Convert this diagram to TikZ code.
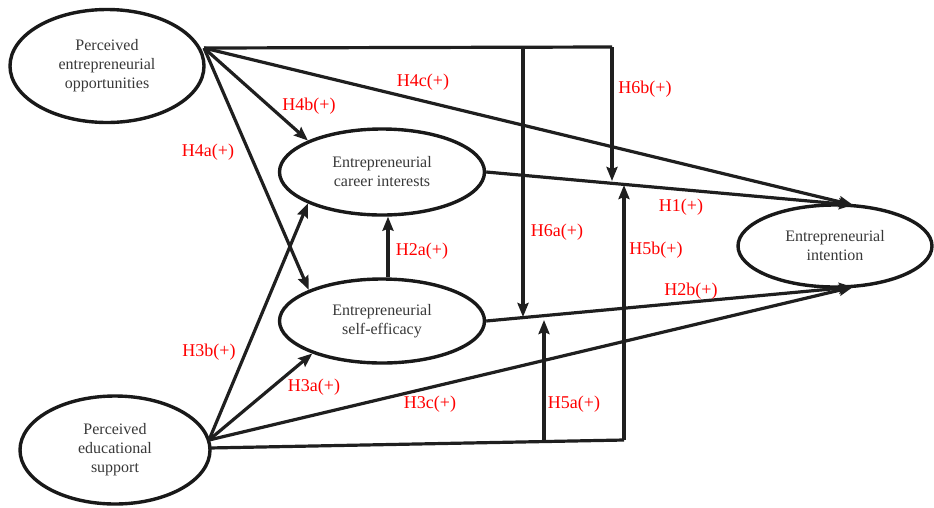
\documentclass[tikz,border=0pt]{standalone}
\usepackage{fontspec}
\setmainfont{Liberation Serif}
\usetikzlibrary{arrows.meta,shapes.geometric}
\tikzset{
  construct/.style={ellipse,draw=black!90,line width=3.4pt,inner sep=0pt,
    align=center,text=black!78,font=\fontsize{16}{19}\selectfont},
  conn/.style={line width=3.2pt,draw=black!88},
  arr/.style={conn,-{Stealth[length=14pt,width=11pt,inset=2pt]}},
  hyp/.style={text=red,font=\fontsize{18}{20}\selectfont,inner sep=0pt}
}
\begin{document}
\begin{tikzpicture}[x=1pt,y=-1pt]
\useasboundingbox (0,0) rectangle (934,507);
% constructs
\node[construct,minimum width=194pt,minimum height=113pt] (peo) at (107,66)
  {Perceived\\entrepreneurial\\opportunities};
\node[construct,minimum width=205pt,minimum height=86pt] (eci) at (382,172)
  {Entrepreneurial\\career interests};
\node[construct,minimum width=205pt,minimum height=84pt] (ese) at (382,321)
  {Entrepreneurial\\self-efficacy};
\node[construct,minimum width=194pt,minimum height=82pt] (ei) at (835,246)
  {Entrepreneurial\\intention};
\node[construct,minimum width=190pt,minimum height=108pt] (pes) at (115,450)
  {Perceived\\educational\\support};
% junction points
\coordinate (peoHub) at (204,48);
\coordinate (pesHub) at (209,440);
\coordinate (pesLow) at (209,448);
\coordinate (topR) at (612,47);
\coordinate (topM) at (523,47);
\coordinate (botR) at (624,440);
\coordinate (botM) at (544,441.5);
\coordinate (h6bTip) at (612,181);
\coordinate (h5bTip) at (624,185);
\coordinate (h6aTip) at (523,317);
\coordinate (h5aTip) at (544,320);
\coordinate (eiTop) at (853,205);
\coordinate (eiBot) at (853,287);
% connectors from PEO
\draw[conn] (peoHub) -- (topR);
\draw[arr] (topR) -- (h6bTip);
\draw[arr] (topM) -- (h6aTip);
\draw[arr] (peoHub) -- (eiTop);
\draw[arr] (peoHub) -- (eci.157);
\draw[arr] (peoHub) -- (ese.157);
% connectors from PES
\draw[arr] (pesHub) -- (eci.203);
\draw[arr] (pesHub) -- (ese.205);
\draw[arr] (pesHub) -- (eiBot);
\draw[conn] (pesLow) -- (botR);
\draw[arr] (botR) -- (h5bTip);
\draw[arr] (botM) -- (h5aTip);
% mediators
\draw[arr] ([xshift=6pt]ese.north) -- ([xshift=6pt]eci.south);
\draw[arr] (eci.east) -- (eiTop);
\draw[arr] (ese.east) -- (eiBot);
% labels
\node[hyp] (l4c) at (423,82) {H4c(+)};
\node[hyp] (l6b) at (645,89) {H6b(+)};
\node[hyp] (l4b) at (309,106) {H4b(+)};
\node[hyp] (l4a) at (208,152) {H4a(+)};
\node[hyp] (l1) at (681,207) {H1(+)};
\node[hyp] (l6a) at (557,232) {H6a(+)};
\node[hyp] (l5b) at (656,250) {H5b(+)};
\node[hyp] (l2a) at (422,251) {H2a(+)};
\node[hyp] (l2b) at (691,291) {H2b(+)};
\node[hyp] (l3b) at (209,352) {H3b(+)};
\node[hyp] (l3a) at (314,387) {H3a(+)};
\node[hyp] (l3c) at (430,404) {H3c(+)};
\node[hyp] (l5a) at (574,404) {H5a(+)};
\end{tikzpicture}
\end{document}
